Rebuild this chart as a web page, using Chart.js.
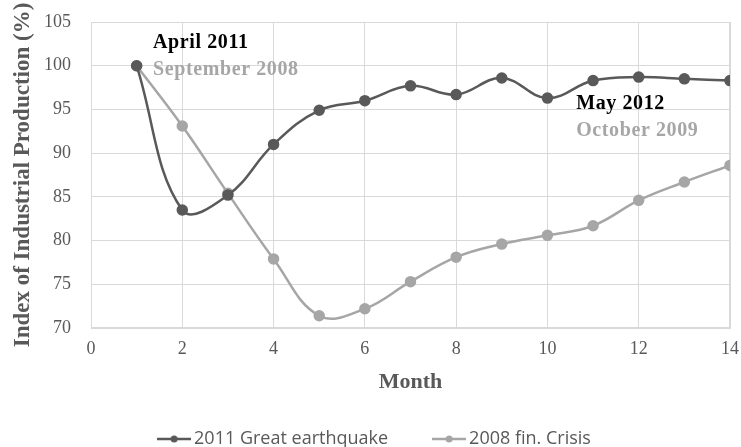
<!DOCTYPE html>
<html>
<head>
<meta charset="utf-8">
<script src="https://cdn.jsdelivr.net/npm/chart.js@4/dist/chart.umd.min.js"></script>
<style>
html,body{margin:0;padding:0;background:#fff;}
#wrap{width:741px;height:447px;position:relative;}
</style>
</head>
<body>
<div id="wrap"><canvas id="c" width="741" height="447"></canvas></div>
<script>
const months = [1,2,3,4,5,6,7,8,9,10,11,12,13,14];
const quake2011 = [100.0,83.5,85.2,91.0,94.9,96.0,97.7,96.7,98.6,96.3,98.3,98.7,98.5,98.3];
const crisis2008 = [100.0,93.1,85.4,77.9,71.4,72.2,75.3,78.1,79.6,80.6,81.7,84.6,86.7,88.6];
const seriesNames = ['2011 Great earthquake','2008 fin. Crisis'];
const xTitle = 'Month';
const yTitle = 'Index of Industrial Production (%)';
const noteTexts = ['April 2011','September 2008','May 2012','October 2009'];
const noteX = [1.36, 1.36, 10.63, 10.63];
const noteY = [102.6, 99.5, 95.6, 92.5];

const DARK = '#595959';
const LIGHT = '#A6A6A6';
const noteColors = ['#000000', LIGHT, '#000000', LIGHT];

function legendIcon(color){
  const cv = document.createElement('canvas');
  cv.width = 34; cv.height = 10;
  const g = cv.getContext('2d');
  g.strokeStyle = color; g.lineWidth = 2.5;
  g.beginPath(); g.moveTo(0,5); g.lineTo(34,5); g.stroke();
  g.fillStyle = color;
  g.beginPath(); g.arc(17,5,3.5,0,Math.PI*2); g.fill();
  return cv;
}

const notesPlugin = {
  id:'notes',
  afterDatasetsDraw(chart){
    const {ctx, scales:{x,y}} = chart;
    ctx.save();
    ctx.font = 'bold 20px "Liberation Serif"';
    if ('letterSpacing' in ctx) ctx.letterSpacing = '0.6px';
    ctx.textAlign = 'left';
    ctx.textBaseline = 'middle';
    noteTexts.forEach((t,i)=>{
      ctx.fillStyle = noteColors[i];
      ctx.fillText(t, x.getPixelForValue(noteX[i]), y.getPixelForValue(noteY[i]));
    });
    ctx.restore();
  }
};

const LEGEND_H = 47;
const legendPlacer = {
  id:'legendPlacer',
  beforeLayout(chart){
    const lg = chart.legend;
    if (lg && !lg._patched){
      const f = lg.fit.bind(lg);
      lg.fit = function(){ f(); this.height = LEGEND_H; };
      lg._patched = true;
    }
  },
  afterLayout(chart){
    const lg = chart.legend;
    if (!lg) return;
    lg.top = 380; lg.bottom = 447; lg.height = 67;
    lg.left += 12; lg.right += 12;
  }
};

const mk = (label, data, color) => ({
  label, data: months.map((m,i)=>({x:m, y:data[i]})),
  borderColor: color, backgroundColor: color,
  pointBackgroundColor: color, pointBorderColor: color,
  pointRadius: 4.5, pointHoverRadius: 4.5, borderWidth: 2.5,
  tension: 0.4, fill:false,
  pointStyle: 'circle'
});

new Chart(document.getElementById('c'), {
  type:'line',
  data:{ datasets:[ mk(seriesNames[0], quake2011, DARK), mk(seriesNames[1], crisis2008, LIGHT) ] },
  options:{
    responsive:false, animation:false,
    layout:{ padding:{top:22, right:11, left:0, bottom:0} },
    plugins:{
      tooltip:{enabled:false},
      legend:{
        position:'bottom',
        labels:{
          usePointStyle:true,
          pointStyleWidth: 22,
          color: DARK,
          font:{family:'"Open Sans", "Liberation Sans", sans-serif', size:18},
          padding: 50,
          generateLabels(chart){
            return chart.data.datasets.map((d,i)=>({
              text:d.label, pointStyle: legendIcon(d.borderColor),
              fillStyle:d.borderColor, strokeStyle:d.borderColor, lineWidth:0,
              fontColor: DARK, datasetIndex:i, hidden:false
            }));
          }
        }
      }
    },
    scales:{
      x:{
        type:'linear', min:0, max:14,
        ticks:{stepSize:2, color:DARK, padding:10, font:{family:'"Liberation Serif"', size:18}},
        grid:{color:'#D9D9D9', drawTicks:false, lineWidth:1},
        border:{color:'#D9D9D9'},
        title:{display:true, text:xTitle, color:DARK, font:{family:'"Liberation Serif"', size:22, weight:'bold'}, padding:{top:4, bottom:4}},
        afterFit(s){ s.height = 72; s.paddingLeft = 0; s.paddingRight = 0; }
      },
      y:{
        min:70, max:105,
        ticks:{stepSize:5, color:DARK, padding:20, font:{family:'"Liberation Serif"', size:18}},
        grid:{color:'#D9D9D9', drawTicks:false, lineWidth:1},
        border:{color:'#D9D9D9'},
        title:{display:true, text:yTitle, color:DARK, font:{family:'"Liberation Serif"', size:23, weight:'bold'}, padding:{top:9, bottom:4}},
        afterFit(s){ s.width = 91; s.paddingTop = 0; s.paddingBottom = 0; }
      }
    }
  },
  plugins:[legendPlacer, notesPlugin, {
    id:'frame',
    beforeDatasetsDraw(chart){
      const {ctx, chartArea:a} = chart;
      ctx.save(); ctx.strokeStyle='#D9D9D9'; ctx.lineWidth=1;
      ctx.strokeRect(a.left+0.5, a.top+0.5, a.right-a.left-1, a.bottom-a.top-1);
      ctx.restore();
    }
  }]
});
</script>
</body>
</html>
